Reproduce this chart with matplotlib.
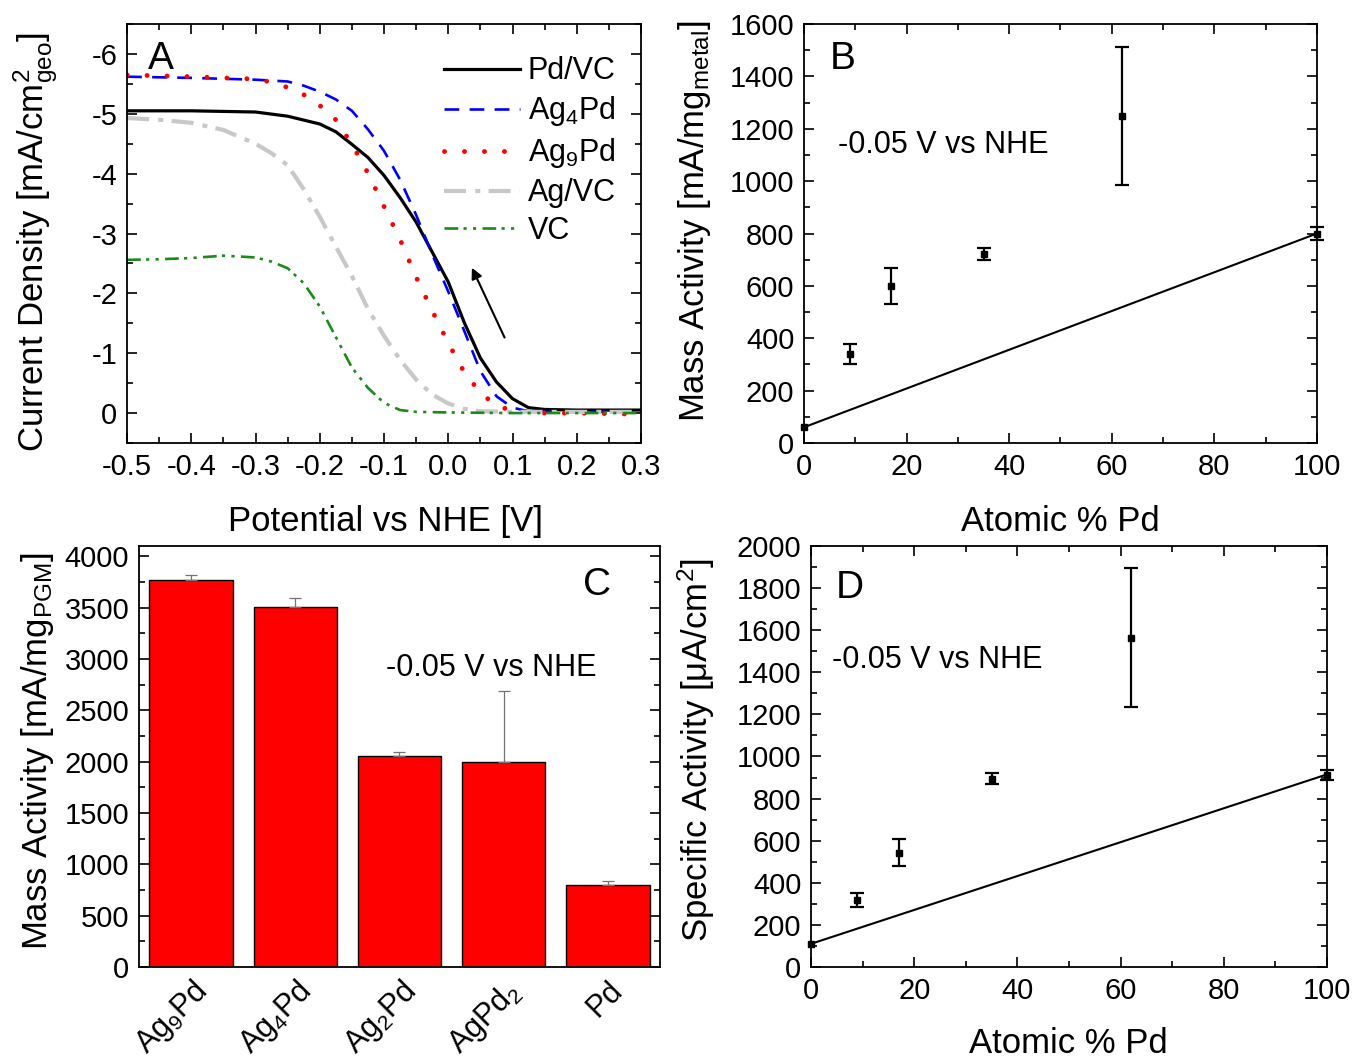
import matplotlib
matplotlib.use('Agg')
import matplotlib.pyplot as plt
from matplotlib.ticker import MultipleLocator, AutoMinorLocator, FormatStrFormatter

plt.rcParams['font.family'] = ['Liberation Sans', 'DejaVu Sans']
plt.rcParams['mathtext.fontset'] = 'custom'
plt.rcParams['mathtext.rm'] = 'Liberation Sans'
plt.rcParams['mathtext.it'] = 'Liberation Sans:italic'
plt.rcParams['mathtext.bf'] = 'Liberation Sans:bold'
plt.rcParams['axes.unicode_minus'] = False

# panel A: LSV curves (potential V vs NHE, current density mA/cm2)
pot_pdvc = [-0.5, -0.4, -0.3, -0.25, -0.2, -0.175, -0.15, -0.125, -0.1, -0.075, -0.05, -0.025,
            0.0, 0.025, 0.05, 0.075, 0.1, 0.125, 0.15, 0.2, 0.3]
j_pdvc = [-5.05, -5.05, -5.03, -4.96, -4.83, -4.70, -4.49, -4.27, -3.97, -3.60, -3.19, -2.69,
          -2.19, -1.51, -0.92, -0.52, -0.24, -0.09, -0.06, -0.05, -0.05]

pot_ag4pd = [-0.5, -0.4, -0.3, -0.25, -0.225, -0.2, -0.175, -0.15, -0.125, -0.1, -0.075, -0.05,
             -0.025, 0.0, 0.025, 0.05, 0.075, 0.1, 0.125, 0.15, 0.2, 0.3]
j_ag4pd = [-5.62, -5.60, -5.57, -5.54, -5.47, -5.37, -5.24, -5.05, -4.74, -4.38, -3.90, -3.31,
           -2.65, -2.03, -1.37, -0.70, -0.28, -0.09, -0.03, -0.02, -0.02, -0.02]

pot_ag9pd = [-0.5, -0.4, -0.3, -0.275, -0.25, -0.225, -0.2, -0.175, -0.15, -0.125, -0.1, -0.075,
             -0.05, -0.025, 0.0, 0.025, 0.05, 0.075, 0.1, 0.15, 0.2, 0.3]
j_ag9pd = [-5.65, -5.62, -5.58, -5.53, -5.44, -5.32, -5.14, -4.90, -4.49, -4.01, -3.45, -2.90,
           -2.27, -1.71, -1.17, -0.68, -0.34, -0.12, -0.04, 0.0, 0.0, 0.02]

pot_agvc = [-0.5, -0.45, -0.4, -0.35, -0.3, -0.275, -0.25, -0.225, -0.2, -0.175, -0.15, -0.125,
            -0.1, -0.075, -0.05, -0.025, 0.0, 0.025, 0.05, 0.1, 0.2, 0.3]
j_agvc = [-4.93, -4.90, -4.85, -4.73, -4.50, -4.34, -4.14, -3.74, -3.28, -2.78, -2.29, -1.74,
          -1.29, -0.89, -0.56, -0.31, -0.16, -0.07, -0.03, -0.02, -0.02, -0.02]

pot_vc = [-0.5, -0.45, -0.4, -0.35, -0.3, -0.275, -0.25, -0.225, -0.2, -0.175, -0.15, -0.125,
          -0.1, -0.075, -0.05, 0.0, 0.1, 0.2, 0.3]
j_vc = [-2.56, -2.57, -2.59, -2.63, -2.60, -2.53, -2.42, -2.17, -1.78, -1.27, -0.76, -0.42,
        -0.17, -0.05, -0.02, -0.01, 0.0, 0.0, 0.0]

# panel B / D: activity vs composition
at_pd = [0, 9, 17, 35, 62, 100]
mass_act = [60, 340, 600, 720, 1250, 800]
mass_err = [0, 38, 70, 23, 263, 25]
spec_act = [110, 318, 543, 895, 1565, 912]
spec_err = [0, 32, 63, 25, 330, 25]
lin_x = [0, 100]
mass_lin = [60, 800]
spec_lin = [110, 915]

# panel C: mass activity per PGM
cats = [r'Ag$\mathregular{_9}$Pd', r'Ag$\mathregular{_4}$Pd', r'Ag$\mathregular{_2}$Pd',
        r'AgPd$\mathregular{_2}$', 'Pd']
pgm_act = [3765, 3505, 2050, 2000, 800]
pgm_err = [50, 88, 40, 690, 33]

TICK = 21
LAB = 25


def style_ax(ax, xmaj, ymaj):
    ax.xaxis.set_major_locator(MultipleLocator(xmaj))
    ax.yaxis.set_major_locator(MultipleLocator(ymaj))
    ax.xaxis.set_minor_locator(AutoMinorLocator(2))
    ax.yaxis.set_minor_locator(AutoMinorLocator(2))
    ax.tick_params(which='both', direction='in', top=True, right=True, width=1.2,
                   labelsize=TICK, pad=7)
    ax.tick_params(which='major', length=7)
    ax.tick_params(which='minor', length=4)
    for s in ax.spines.values():
        s.set_linewidth(1.3)


fig = plt.figure(figsize=(13.56, 10.59), dpi=100)
axA = fig.add_axes([0.0937, 0.5817, 0.379, 0.3956])
axB = fig.add_axes([0.5929, 0.5817, 0.3783, 0.3956])
axC = fig.add_axes([0.1025, 0.0869, 0.3842, 0.3975])
axD = fig.add_axes([0.5981, 0.0869, 0.3805, 0.3975])

# ---- A
axA.plot(pot_pdvc, j_pdvc, color='k', lw=2.3, label='Pd/VC')
axA.plot(pot_ag4pd, j_ag4pd, color='#0000ff', lw=1.9, dashes=(5.6, 3.9), label=r'Ag$\mathregular{_4}$Pd')
axA.plot(pot_ag9pd, j_ag9pd, color='#ff0000', lw=3.5, dashes=(0.01, 4.1), dash_capstyle='round',
         label=r'Ag$\mathregular{_9}$Pd')
axA.plot(pot_agvc, j_agvc, color='#c8c8c8', lw=3.0, dashes=(5.3, 2.2, 1.2, 2.0), label='Ag/VC')
axA.plot(pot_vc, j_vc, color='#1b8a1b', lw=1.9, dashes=(5.2, 2.0, 1.2, 2.4, 1.2, 2.4), label='VC')
axA.set_xlim(-0.5, 0.3)
axA.set_ylim(0.5, -6.5)
style_ax(axA, 0.1, 1)
axA.xaxis.set_major_formatter(FormatStrFormatter('%.1f'))
axA.set_xlabel('Potential vs NHE [V]', fontsize=LAB)
axA.set_ylabel(r'Current Density [mA/cm$\mathregular{^2_{geo}}$]', fontsize=LAB)
axA.xaxis.set_label_coords(0.502, -0.148)
axA.yaxis.set_label_coords(-0.128, 0.48)
axA.text(0.04, 0.96, 'A', transform=axA.transAxes, fontsize=28, va='top', ha='left')
axA.annotate('', xy=(0.035, -2.47), xytext=(0.0895, -1.22),
             arrowprops=dict(arrowstyle='-|>', color='k', lw=1.5, mutation_scale=16))
axA.legend(loc='upper left', bbox_to_anchor=(0.592, 0.952), frameon=False, fontsize=22,
           handlelength=2.5, handletextpad=0.25, labelspacing=0.26, borderaxespad=0)

# ---- B
axB.plot(lin_x, mass_lin, color='k', lw=1.5)
axB.plot(at_pd[:1], mass_act[:1], 's', color='k', ms=5, clip_on=False)
axB.errorbar(at_pd[1:], mass_act[1:], yerr=mass_err[1:], fmt='s', color='k', ms=5, capsize=5,
             elinewidth=1.6, capthick=1.6, clip_on=False)
axB.set_xlim(0, 100)
axB.set_ylim(0, 1600)
style_ax(axB, 20, 200)
axB.set_xlabel('Atomic % Pd', fontsize=LAB)
axB.set_ylabel(r'Mass Activity [mA/mg$\mathregular{_{metal}}$]', fontsize=LAB)
axB.xaxis.set_label_coords(0.499, -0.148)
axB.yaxis.set_label_coords(-0.177, 0.53)
axB.text(0.05, 0.96, 'B', transform=axB.transAxes, fontsize=28, va='top', ha='left')
axB.text(6.6, 1138, '-0.05 V vs NHE', fontsize=22, va='center', ha='left')

# ---- C
pos = [1, 2, 3, 4, 5]
axC.bar(pos, pgm_act, width=0.8, color='#ff0000', edgecolor='k', linewidth=1.0)
axC.errorbar(pos, pgm_act, yerr=[[0] * 5, pgm_err], fmt='none', ecolor='0.45', elinewidth=0.9,
             capsize=4, capthick=0.9)
axC.set_xlim(0.5, 5.5)
axC.set_ylim(0, 4100)
axC.yaxis.set_major_locator(MultipleLocator(500))
axC.yaxis.set_minor_locator(AutoMinorLocator(2))
axC.tick_params(axis='y', which='both', direction='in', right=True, width=1.2, labelsize=TICK, pad=7)
axC.tick_params(axis='y', which='major', length=7)
axC.tick_params(axis='y', which='minor', length=4)
axC.set_xticks(pos)
axC.set_xticklabels(cats, rotation=45, ha='right', rotation_mode='anchor', fontsize=22)
axC.tick_params(axis='x', length=0, pad=6)
for s in axC.spines.values():
    s.set_linewidth(1.3)
axC.set_ylabel(r'Mass Activity [mA/mg$\mathregular{_{PGM}}$]', fontsize=LAB)
axC.yaxis.set_label_coords(-0.159, 0.513)
axC.text(4.9, 3718, 'C', fontsize=28, va='center', ha='center')
axC.text(3.88, 2910, '-0.05 V vs NHE', fontsize=22, va='center', ha='center')

# ---- D
axD.plot(lin_x, spec_lin, color='k', lw=1.5)
axD.plot(at_pd[:1], spec_act[:1], 's', color='k', ms=5, clip_on=False)
axD.errorbar(at_pd[1:], spec_act[1:], yerr=spec_err[1:], fmt='s', color='k', ms=5, capsize=5,
             elinewidth=1.6, capthick=1.6, clip_on=False)
axD.set_xlim(0, 100)
axD.set_ylim(0, 2000)
style_ax(axD, 20, 200)
axD.set_xlabel('Atomic % Pd', fontsize=LAB)
axD.set_ylabel('Specific Activity [μA/cm$\mathregular{^2}$]', fontsize=LAB)
axD.xaxis.set_label_coords(0.498, -0.1425)
axD.yaxis.set_label_coords(-0.183, 0.515)
axD.text(4.7, 1800, 'D', fontsize=28, va='center', ha='left')
axD.text(4.1, 1458, '-0.05 V vs NHE', fontsize=22, va='center', ha='left')

fig.savefig('out.png', dpi=100)
